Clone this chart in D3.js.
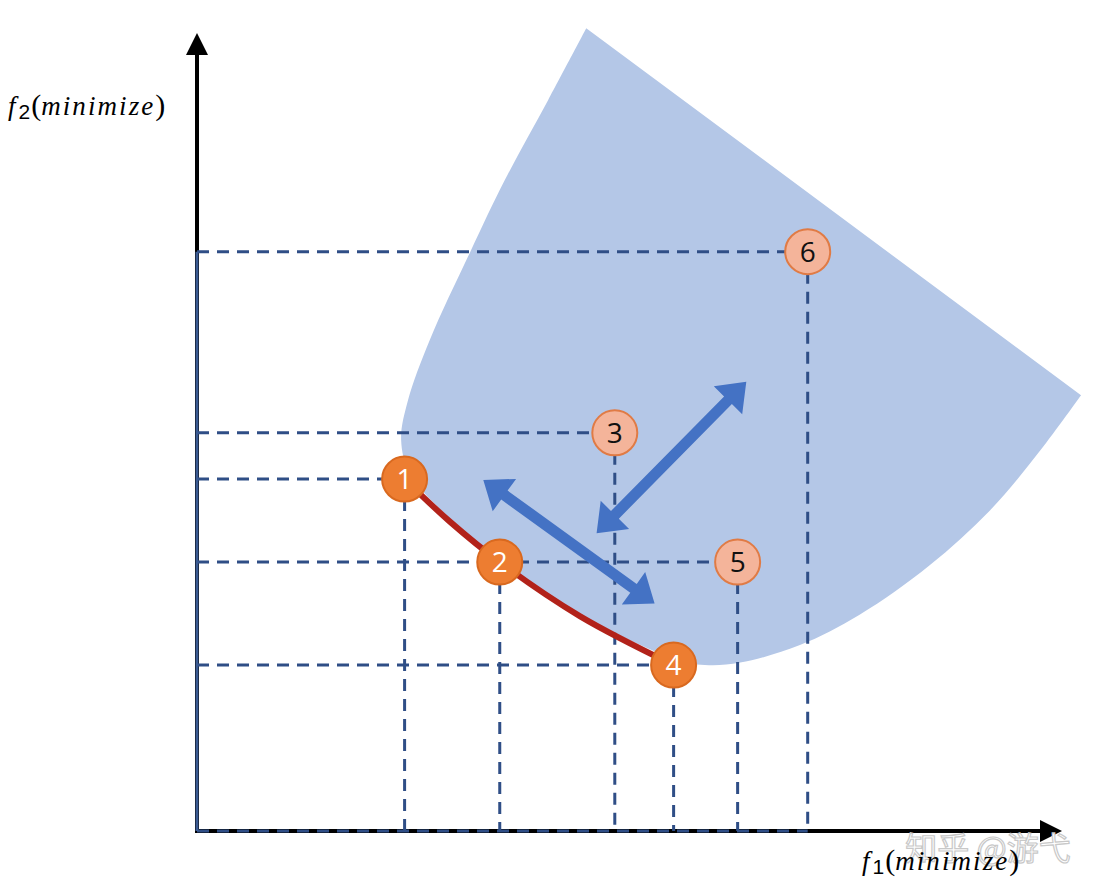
<!DOCTYPE html>
<html>
<head>
<meta charset="utf-8">
<script src="https://cdn.jsdelivr.net/npm/d3@7"></script>
<style>
  html, body { margin: 0; padding: 0; background: #fff; }
</style>
</head>
<body>
<div id="chart"></div>
<script>
// solutions: f1, f2 and whether it sits on the pareto front
var labels = ["1", "2", "3", "4", "5", "6"];
var f1 = [2.40, 3.50, 4.83, 5.51, 6.25, 7.06];
var f2 = [4.41, 3.37, 4.99, 2.08, 3.37, 7.26];
var front = [true, true, false, true, false, false];

// red pareto curve from 1 to 4
var frontCurve = [[2.40, 4.41], [2.92, 3.88], [3.50, 3.37], [4.43, 2.69], [5.51, 2.08]];

// feasible region outline, starting at right corner, ending at top corner
var regionRight = [10.22, 5.46];
var regionLower = [[9.75, 4.77], [9.17, 4.02], [8.47, 3.33], [7.66, 2.71], [6.97, 2.33],
                   [6.28, 2.11], [5.87, 2.08], [5.51, 2.16], [4.43, 2.72], [3.50, 3.40],
                   [2.92, 3.92], [2.46, 4.48]];
var regionLeft = [[2.36, 4.90], [2.44, 5.40], [2.69, 6.15], [3.16, 7.26], [3.56, 8.16], [4.06, 9.16]];
var regionTop = [4.50, 10.06];

// double arrows [from, to]
var arrows = [
  [[3.31, 4.40], [5.29, 2.85]],
  [[6.35, 5.63], [4.62, 3.73]]
];

var W = 1104, H = 896;

var x = d3.scaleLinear().domain([0, 10]).range([197, 1062]);
var y = d3.scaleLinear().domain([0, 10]).range([831, 33]);

var svg = d3.select("#chart").append("svg")
  .attr("width", W)
  .attr("height", H);

// region
var regionPts = [regionRight].concat(regionLower, regionLeft, [regionTop]);
var regionLine = d3.line()
  .x(function(d) { return x(d[0]); })
  .y(function(d) { return y(d[1]); })
  .curve(d3.curveCatmullRom.alpha(0.5));

svg.append("path")
  .attr("d", regionLine(regionPts) + "Z")
  .attr("fill", "#B4C7E7");

// axes
var axisColor = "#000";
svg.append("line")
  .attr("x1", x(0)).attr("y1", y(0) + 2)
  .attr("x2", x(0)).attr("y2", y(10) + 20)
  .attr("stroke", axisColor).attr("stroke-width", 4);
svg.append("path")
  .attr("d", "M" + x(0) + "," + y(10) + "l-11,22l22,0Z")
  .attr("fill", axisColor);

svg.append("line")
  .attr("x1", x(0) - 2).attr("y1", y(0))
  .attr("x2", x(10) - 20).attr("y2", y(0))
  .attr("stroke", axisColor).attr("stroke-width", 4);
svg.append("path")
  .attr("d", "M" + x(10) + "," + y(0) + "l-22,-11l0,22Z")
  .attr("fill", axisColor);

// guide lines
var dashColor = "#2F4E86";
var guides = svg.append("g")
  .attr("stroke", dashColor)
  .attr("stroke-width", 3)
  .attr("stroke-dasharray", "12,8")
  .attr("fill", "none");

var maxF2 = d3.max(f2);
// vertical line along the y axis
svg.append("line")
  .attr("x1", x(0)).attr("y1", y(maxF2))
  .attr("x2", x(0)).attr("y2", y(0))
  .attr("stroke", "#3A5A92").attr("stroke-width", 3);

f1.forEach(function(v, i) {
  // horizontal: only lines that end at the furthest point of the same f2
  var far = d3.max(f1.filter(function(a, j) { return f2[j] === f2[i]; }));
  if (v === far) {
    guides.append("line")
      .attr("x1", x(0)).attr("y1", y(f2[i]))
      .attr("x2", x(v)).attr("y2", y(f2[i]));
  }
  guides.append("line")
    .attr("x1", x(v)).attr("y1", y(f2[i]))
    .attr("x2", x(v)).attr("y2", y(0));
});
guides.append("line")
  .attr("x1", x(0)).attr("y1", y(0))
  .attr("x2", x(d3.max(f1))).attr("y2", y(0));

// pareto curve
svg.append("path")
  .attr("d", d3.line()
    .x(function(d) { return x(d[0]); })
    .y(function(d) { return y(d[1]); })
    .curve(d3.curveCatmullRom)(frontCurve))
  .attr("fill", "none")
  .attr("stroke", "#B2221A")
  .attr("stroke-width", 6);

// arrows
function doubleArrow(a, b) {
  var x1 = x(a[0]), y1 = y(a[1]), x2 = x(b[0]), y2 = y(b[1]);
  var dx = x2 - x1, dy = y2 - y1, len = Math.sqrt(dx * dx + dy * dy);
  var ux = dx / len, uy = dy / len, px = -uy, py = ux;
  var sw = 5.5, hw = 20, hl = 26;
  function p(t, s) { return [x1 + ux * t + px * s, y1 + uy * t + py * s]; }
  var pts = [
    p(0, 0), p(hl, hw), p(hl, sw), p(len - hl, sw), p(len - hl, hw),
    p(len, 0), p(len - hl, -hw), p(len - hl, -sw), p(hl, -sw), p(hl, -hw)
  ];
  return "M" + pts.map(function(q) { return q[0].toFixed(1) + "," + q[1].toFixed(1); }).join("L") + "Z";
}
svg.append("g").selectAll("path")
  .data(arrows)
  .join("path")
  .attr("d", function(d) { return doubleArrow(d[0], d[1]); })
  .attr("fill", "#4472C4");

// points
var pts = svg.append("g").selectAll("g")
  .data(labels)
  .join("g")
  .attr("transform", function(d, i) { return "translate(" + x(f1[i]) + "," + y(f2[i]) + ")"; });

pts.append("circle")
  .attr("r", 22.5)
  .attr("fill", function(d, i) { return front[i] ? "#ED7D31" : "#F4B49A"; })
  .attr("stroke", function(d, i) { return front[i] ? "#D9691F" : "#E07B45"; })
  .attr("stroke-width", 2);

pts.append("text")
  .attr("text-anchor", "middle")
  .attr("dy", "0.36em")
  .attr("font-family", "'Open Sans', 'Liberation Sans', sans-serif")
  .attr("font-size", 28)
  .attr("fill", function(d, i) { return front[i] ? "#fff" : "#111"; })
  .text(function(d) { return d; });

// axis labels
function axisLabel(tx, ty, sub) {
  var t = svg.append("text")
    .attr("x", tx).attr("y", ty)
    .attr("font-family", "'Liberation Serif', 'DejaVu Serif', serif")
    .attr("font-size", 27)
    .attr("fill", "#000");
  t.append("tspan").attr("font-style", "italic").text("f");
  t.append("tspan").attr("font-family", "'Liberation Sans', sans-serif").attr("font-size", 21).attr("dx", 3).attr("dy", 4).text(sub);
  t.append("tspan").attr("dx", 1).attr("dy", -4).attr("font-size", 30).text("(");
  t.append("tspan").attr("font-style", "italic").attr("textLength", 112).attr("lengthAdjust", "spacing").text("minimize");
  t.append("tspan").attr("font-size", 30).text(")");
}
axisLabel(8, 115, "2");

// watermark sits behind f1 label, as in the source
svg.append("text")
  .attr("x", 988).attr("y", 860)
  .attr("text-anchor", "middle")
  .attr("font-family", "'Noto Sans CJK SC', sans-serif")
  .attr("font-size", 32)
  .attr("fill", "#fff")
  .attr("stroke", "#c8c8c8")
  .attr("stroke-width", 1.2)
  .text("知乎 @游弋");

axisLabel(862, 870, "1");
</script>
</body>
</html>
